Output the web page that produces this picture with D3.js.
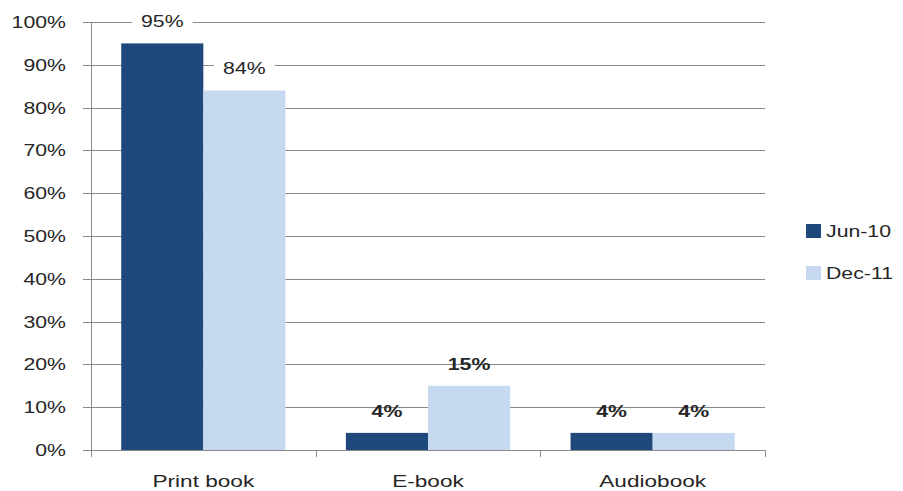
<!DOCTYPE html>
<html>
<head>
<meta charset="utf-8">
<script src="https://cdnjs.cloudflare.com/ajax/libs/d3/7.8.5/d3.min.js"></script>
<style>
  html, body { margin: 0; padding: 0; background: #fff; }
  svg { display: block; }
  text { font-family: "Liberation Sans", Arial, sans-serif; fill: #262626; }
</style>
</head>
<body>
<svg id="chart" width="903" height="491"></svg>
<script>
// Share of readers by format, two survey dates
const categories = ["Print book", "E-book", "Audiobook"];
const series = ["Jun-10", "Dec-11"];
const jun10 = [0.95, 0.04, 0.04];
const dec11 = [0.84, 0.15, 0.04];
const yTicks = [0, 0.1, 0.2, 0.3, 0.4, 0.5, 0.6, 0.7, 0.8, 0.9, 1.0];
const colors = ["#1f497d", "#c6d9f1"];

const values = [jun10, dec11];
const svg = d3.select("#chart");
const stretch = 1.33; // horizontal text widening

const plot = { left: 91, right: 765, top: 22, bottom: 450 };

const x0 = d3.scaleBand().domain(categories).range([plot.left, plot.right]).padding(0);
const x1 = d3.scaleBand().domain(series).range([0, x0.bandwidth()])
  .paddingInner(0).paddingOuter(0.368);
const y = d3.scaleLinear().domain([0, 1]).range([plot.bottom, plot.top]);

function wideText(sel, x, yy, anchor) {
  return sel.append("text")
    .attr("transform", `translate(${x},${yy}) scale(${stretch},1)`)
    .attr("text-anchor", anchor);
}

// horizontal gridlines with left tick stubs
svg.append("g").selectAll("line").data(yTicks).join("line")
  .attr("x1", plot.left - 8).attr("x2", plot.right)
  .attr("y1", d => Math.round(y(d)) + 0.5).attr("y2", d => Math.round(y(d)) + 0.5)
  .attr("stroke", "#8a8a8a").attr("stroke-width", 1);

// vertical axis line
svg.append("line")
  .attr("x1", plot.left + 0.5).attr("x2", plot.left + 0.5)
  .attr("y1", y(1)).attr("y2", plot.bottom)
  .attr("stroke", "#8a8a8a");

// bars
categories.forEach((c, i) => {
  series.forEach((s, j) => {
    const v = values[j][i];
    svg.append("rect")
      .attr("x", x0(c) + x1(s))
      .attr("y", y(v))
      .attr("width", x1.bandwidth())
      .attr("height", plot.bottom - y(v))
      .attr("fill", colors[j]);
  });
});

// category axis line and tick marks
svg.append("line")
  .attr("x1", plot.left - 8).attr("x2", plot.right)
  .attr("y1", plot.bottom + 0.5).attr("y2", plot.bottom + 0.5)
  .attr("stroke", "#8a8a8a");
const catEdges = categories.map(c => x0(c)).concat([plot.right]);
svg.append("g").selectAll("line").data(catEdges).join("line")
  .attr("x1", d => Math.round(d) + 0.5).attr("x2", d => Math.round(d) + 0.5)
  .attr("y1", plot.bottom).attr("y2", plot.bottom + 7)
  .attr("stroke", "#8a8a8a");

// y tick labels
const fmt = d3.format(".0%");
yTicks.forEach(t => {
  wideText(svg, 66, y(t) + 6, "end")
    .attr("font-size", 16)
    .attr("fill", "#2a2a2a")
    .text(fmt(t));
});

// category labels
categories.forEach(c => {
  wideText(svg, x0(c) + x0.bandwidth() / 2, 487, "middle")
    .attr("font-size", 17)
    .attr("fill", "#2a2a2a")
    .text(c);
});

// data labels above bars; tall bars' labels sit on a white backing
categories.forEach((c, i) => {
  series.forEach((s, j) => {
    const v = values[j][i];
    const cx = x0(c) + x1(s) + x1.bandwidth() / 2;
    const g = svg.append("g");
    const t = wideText(g, cx, y(v) - 16, "middle")
      .attr("font-size", 16)
      .text(fmt(v));
    if (v > 0.5) {
      const w = t.node().getBBox().width * stretch;
      g.insert("rect", "text")
        .attr("x", cx - w / 2 - 9).attr("y", y(v) - 32)
        .attr("width", w + 18).attr("height", 20)
        .attr("fill", "#fff");
      t.attr("fill", "#333");
    } else {
      t.attr("fill", "#111").attr("font-weight", "bold");
    }
  });
});

// legend
series.forEach((s, j) => {
  const ly = 231 + j * 42;
  svg.append("rect")
    .attr("x", 806).attr("y", ly - 7)
    .attr("width", 15).attr("height", 14)
    .attr("fill", colors[j]);
  wideText(svg, 826, ly + 6, "start")
    .attr("font-size", 16)
    .attr("fill", "#1a1a1a")
    .text(s);
});
</script>
</body>
</html>
